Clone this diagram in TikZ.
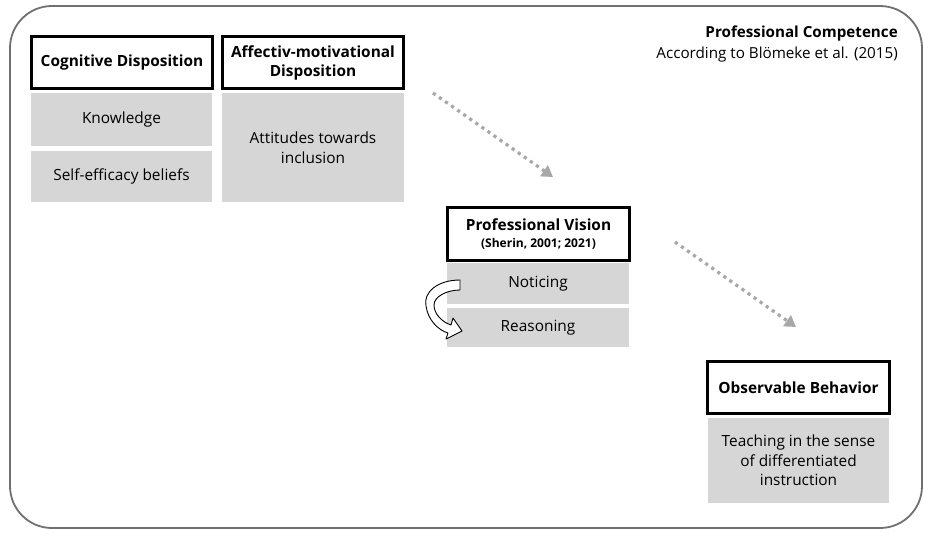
\documentclass[tikz,border=0pt]{standalone}
\usepackage{fontspec}
\setmainfont{Open Sans}
\usetikzlibrary{arrows.meta}
\definecolor{boxgray}{HTML}{D6D6D6}
\definecolor{dotgray}{HTML}{A8A8A8}
\definecolor{framegray}{HTML}{707070}
\tikzset{
  headbox/.style={draw=black, line width=2.4pt, fill=white, align=center, font=\bfseries\fontsize{15.4}{19}\selectfont, inner sep=0pt},
  itembox/.style={fill=boxgray, align=center, font=\fontsize{15.4}{19.5}\selectfont, inner sep=0pt},
  dotarrow/.style={draw=dotgray, line width=3.2pt, dash pattern=on 3.2pt off 4.2pt, -{Triangle[length=11pt,width=13pt,fill=dotgray]}},
  turnarrow/.style={draw=black, fill=white, line width=0.9pt, line join=round},
}
\begin{document}
\begin{tikzpicture}[x=1pt, y=-1pt]
\useasboundingbox (0,0) rectangle (935,539);
\fill[white] (0,0) rectangle (935,539);
% frame
\draw[framegray, line width=1.8pt, rounded corners=42pt] (10,6) rectangle (922,528);
% title
\node[anchor=north east, align=right, inner sep=0pt, font=\fontsize{15.2}{20.5}\selectfont] (title) at (898,26) {\textbf{Professional Competence}\\According to Blömeke et al. (2015)};
% cognitive
\node[headbox, minimum width=181pt, minimum height=52pt] (cog) at (122,62.5) {Cognitive Disposition};
\node[itembox, minimum width=181pt, minimum height=53pt] (know) at (121.5,119.5) {Knowledge};
\node[itembox, minimum width=181pt, minimum height=51pt] (self) at (121.5,176.5) {Self-efficacy beliefs};
% affective
\node[headbox, minimum width=181pt, minimum height=52pt] (aff) at (313,62.5) {Affectiv-motivational\\Disposition};
\node[itembox, minimum width=182pt, minimum height=109pt] (att) at (313,147.5) {Attitudes towards\\inclusion};
% professional vision
\node[headbox, minimum width=182pt, minimum height=53pt] (pv) at (538.5,234) {Professional Vision\\[-2pt]{\fontsize{12}{13}\selectfont (Sherin, 2001; 2021)}};
\node[itembox, minimum width=182pt, minimum height=41pt] (not) at (538,283.5) {Noticing};
\node[itembox, minimum width=182pt, minimum height=39pt] (rea) at (538,327.5) {Reasoning};
% observable
\node[headbox, minimum width=182pt, minimum height=52pt] (obs) at (798.5,387.5) {Observable Behavior};
\node[itembox, minimum width=181pt, minimum height=85pt] (teach) at (798.5,460.5) {Teaching in the sense\\of differentiated\\instruction};
% dotted arrows
\coordinate (a1s) at (433,93);
\coordinate (a1e) at (553,177);
\coordinate (a2s) at (675,242);
\coordinate (a2e) at (796,327);
\draw[dotarrow] (a1s) -- (a1e);
\draw[dotarrow] (a2s) -- (a2e);
% curved block arrow
\draw[turnarrow] (460,280) .. controls (438,280) and (423,292) .. (426,306)
  .. controls (428,320) and (438,330) .. (448,333) -- (446,339) -- (462,331) -- (453,318) -- (451,325)
  .. controls (442,322) and (434,314) .. (434,305) .. controls (434,297) and (446,290) .. (460,290) -- cycle;
\end{tikzpicture}
\end{document}
